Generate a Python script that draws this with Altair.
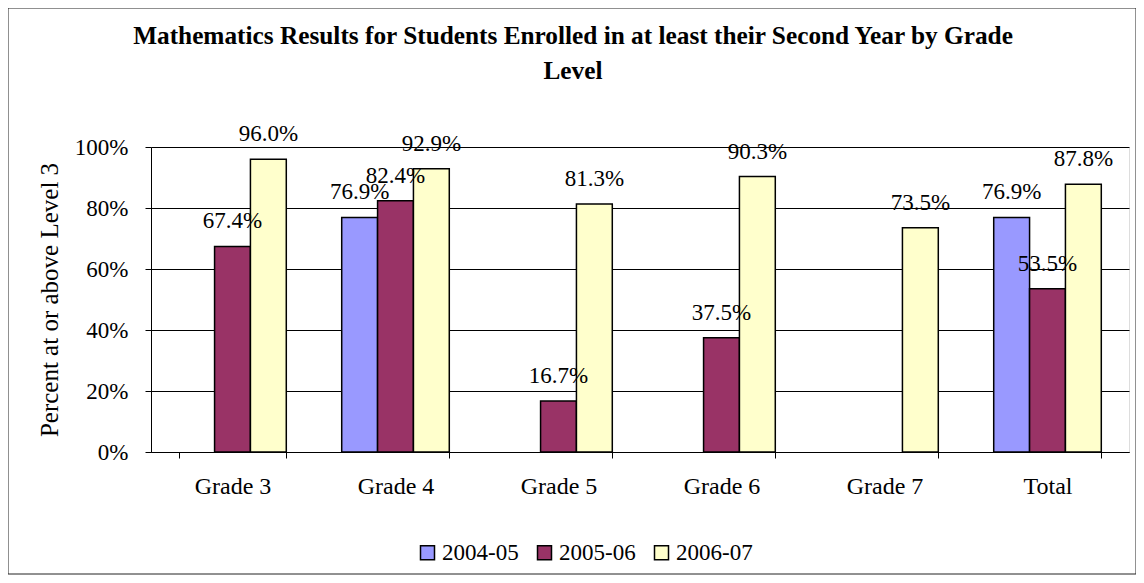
import altair as alt
import pandas as pd

categories = ["Grade 3", "Grade 4", "Grade 5", "Grade 6", "Grade 7", "Total"]
years = ["2004-05", "2005-06", "2006-07"]
v_2004_05 = [None, 76.9, None, None, None, 76.9]
v_2005_06 = [67.4, 82.4, 16.7, 37.5, None, 53.5]
v_2006_07 = [96.0, 92.9, 81.3, 90.3, 73.5, 87.8]
colors = ["#9999FF", "#993366", "#FFFFCC"]
y_ticks = [0, 20, 40, 60, 80, 100]
title_lines = ["Mathematics Results for Students Enrolled in at least their Second Year by Grade", "Level"]

rows = []
for yr, vals in zip(years, [v_2004_05, v_2005_06, v_2006_07]):
    for c, v in zip(categories, vals):
        if v is not None:
            rows.append({"Grade": c, "Year": yr, "Pct": v, "Label": f"{v:.1f}%"})
df = pd.DataFrame(rows)
one = pd.DataFrame({"k": [0]})

FONT = "'Liberation Serif', 'Times New Roman', Times, serif"
W, H = 978, 305

x = alt.X("Grade:N", sort=categories, title=None,
          scale=alt.Scale(paddingInner=0.34, paddingOuter=0.17),
          axis=alt.Axis(labelAngle=0, tickBand="extent", tickSize=6,
                        labelPadding=16, labelFontSize=24, labelFont=FONT,
                        labelColor="black", domainColor="black",
                        tickColor="black", grid=False))
xo = alt.XOffset("Year:N", sort=years, scale=alt.Scale(paddingInner=0))
y = alt.Y("Pct:Q", title="Percent at or above Level 3",
          scale=alt.Scale(domain=[0, 100], nice=False),
          axis=alt.Axis(values=y_ticks, labelExpr="datum.value + '%'",
                        tickSize=6, labelPadding=17, labelFontSize=23,
                        labelFont=FONT, labelColor="black",
                        titleFont=FONT, titleFontSize=25,
                        titleFontWeight="normal", titleColor="black",
                        titlePadding=12, domainColor="black",
                        tickColor="black", grid=True, gridColor="black",
                        gridWidth=1, gridOpacity=1))

frame = alt.Chart(one).mark_rect(fill="transparent", stroke="#222222",
                                 strokeWidth=1, clip=False).encode(
    x=alt.value(-143), x2=alt.value(985), y=alt.value(-139), y2=alt.value(427))

title1 = alt.Chart(one).mark_text(font=FONT, fontSize=25.3, fontWeight="bold",
                                  color="black", baseline="alphabetic",
                                  align="center").encode(
    x=alt.value(422), y=alt.value(-103), text=alt.value(title_lines[0]))
title2 = alt.Chart(one).mark_text(font=FONT, fontSize=25.3, fontWeight="bold",
                                  color="black", baseline="alphabetic",
                                  align="center").encode(
    x=alt.value(422), y=alt.value(-68), text=alt.value(title_lines[1]))

bars = alt.Chart(df).mark_bar(stroke="black", strokeWidth=1.5).encode(
    x=x, xOffset=xo, y=y,
    color=alt.Color("Year:N", sort=years, title=None,
                    scale=alt.Scale(domain=years, range=colors),
                    legend=alt.Legend(orient="none", direction="horizontal",
                                      legendX=265, legendY=394,
                                      symbolType="square", symbolSize=196,
                                      symbolStrokeColor="black",
                                      symbolStrokeWidth=1.5,
                                      labelFont=FONT, labelFontSize=23,
                                      labelColor="black", labelOffset=3,
                                      columnPadding=14)))

texts = alt.Chart(df).mark_text(font=FONT, fontSize=23, color="black",
                                baseline="middle", dy=-25).encode(
    x=x, xOffset=xo, y=y, text="Label:N")

chart = alt.layer(frame, title1, title2, bars, texts).properties(
    width=W, height=H,
    autosize=alt.AutoSizeParams(type="none"),
    padding={"left": 143, "top": 139, "right": 7, "bottom": 123},
).configure_view(fill="#C0C0C0", stroke="#808080", strokeWidth=1
).configure(background="white")

chart.save("out.html", embed_options={"renderer": "svg", "actions": False})
